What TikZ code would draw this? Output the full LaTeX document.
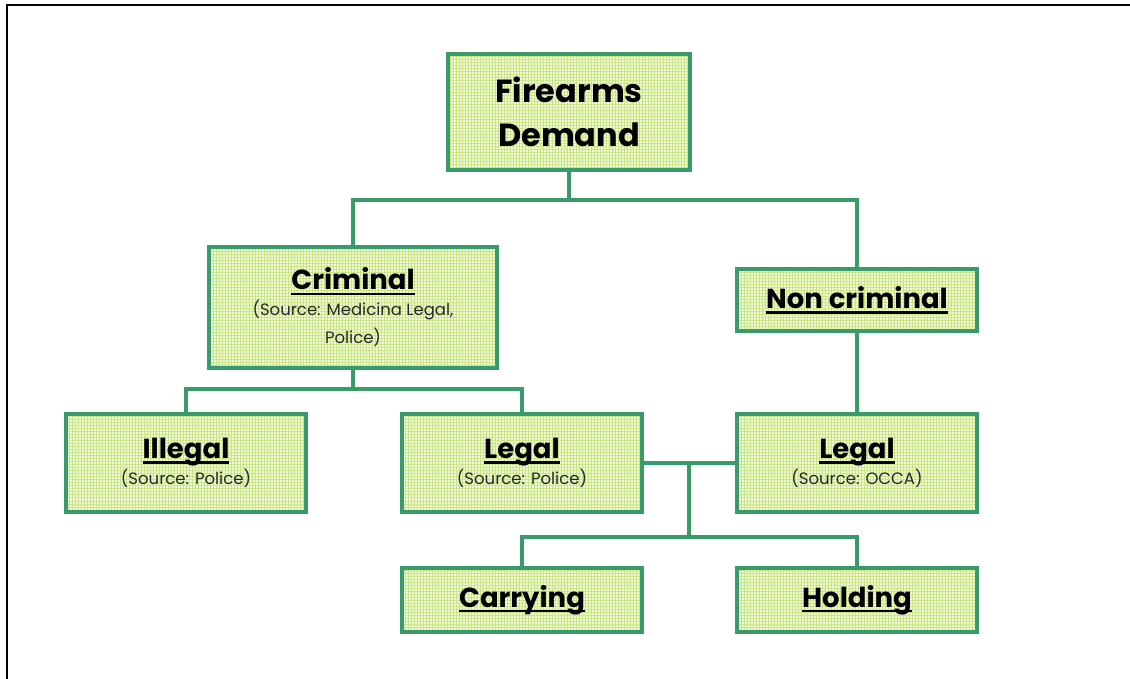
\documentclass[tikz,border=0pt]{standalone}
\usepackage{fontspec}
\usetikzlibrary{patterns.meta}
\setmainfont{Poppins}
\definecolor{edge}{RGB}{58,155,106}
\definecolor{boxfill}{RGB}{240,249,220}
\definecolor{gridline}{RGB}{200,230,125}
\definecolor{srcgray}{RGB}{40,40,40}
\newcommand{\srcline}[1]{{\fontsize{16.5}{20}\selectfont\mdseries\color{srcgray}#1}}
\newcommand{\ttl}[1]{\setbox0\hbox{#1}\leavevmode\rlap{\rule[-5pt]{\wd0}{2.4pt}}\box0}
\begin{document}
\begin{tikzpicture}[x=1pt,y=-1pt,
  box/.style={draw=edge,line width=4pt,fill=boxfill,inner sep=0pt,align=center,
    postaction={pattern={Lines[distance=3pt,line width=1pt,angle=0]},pattern color=gridline},
    postaction={pattern={Lines[distance=3pt,line width=1pt,angle=90]},pattern color=gridline},
    postaction={draw=edge,line width=4pt},
    minimum width=240pt,minimum height=98pt,font=\fontsize{27.5}{29}\selectfont\bfseries},
  conn/.style={draw=edge,line width=4.5pt}]
\useasboundingbox (0,0) rectangle (1130,678);
\draw[line width=2pt,black] (7,690) -- (7,5) -- (1140,5);
\node[box,minimum width=242pt,minimum height=116pt,font=\fontsize{32}{44}\selectfont\bfseries] (fd) at (569,112) {Firearms\\Demand};
\node[box,minimum width=288pt,minimum height=121pt] (crim) at (353,307.5) {\ttl{Criminal}\\[-3pt]\srcline{(Source: Medicina Legal,}\\[-1pt]\srcline{Police)}};
\node[box,minimum width=240pt,minimum height=62pt] (ncrim) at (857,300) {\ttl{Non criminal}};
\node[box] (illegal) at (186,463) {\ttl{Illegal}\\[-3pt]\srcline{(Source: Police)}};
\node[box] (lcrim) at (522,463) {\ttl{Legal}\\[-3pt]\srcline{(Source: Police)}};
\node[box] (locca) at (857,463) {\ttl{Legal}\\[-3pt]\srcline{(Source: OCCA)}};
\node[box,minimum height=64pt] (carry) at (522,600) {\ttl{Carrying}};
\node[box,minimum height=64pt] (hold) at (857,600) {\ttl{Holding}};
\coordinate (j) at (689,463);
\draw[conn] (fd.south) -- ++(0,28) coordinate (fdj);
\draw[conn] (crim.north) |- (fdj) -| (ncrim.north);
\draw[conn] (crim.south) -- ++(0,19) coordinate (cj);
\draw[conn] (illegal.north) |- (cj) -| (lcrim.north);
\draw[conn] (ncrim.south) -- (locca.north);
\draw[conn] (lcrim.east) -- (locca.west);
\draw[conn] (j) -- ++(0,74) coordinate (hj);
\draw[conn] (carry.north) |- (hj) -| (hold.north);
\end{tikzpicture}
\end{document}
